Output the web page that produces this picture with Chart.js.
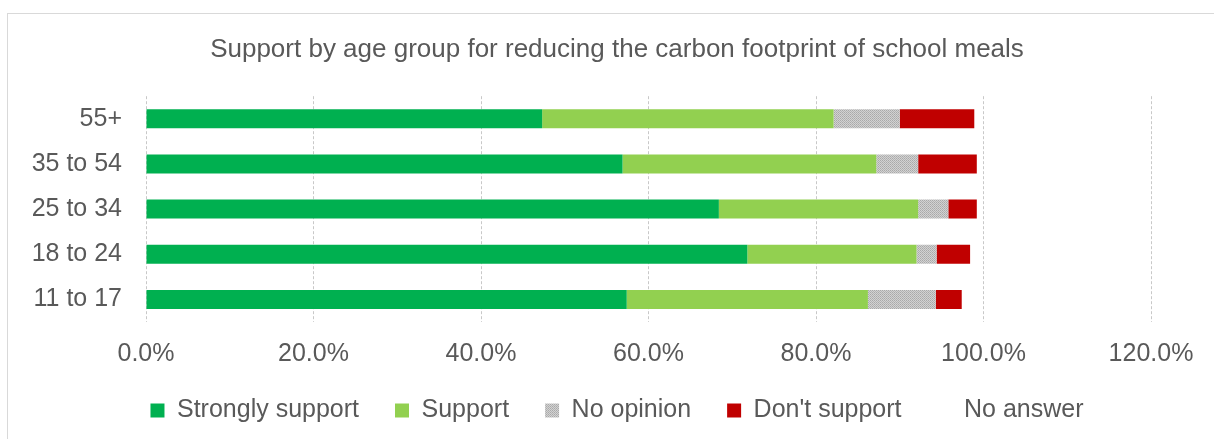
<!DOCTYPE html>
<html>
<head>
<meta charset="utf-8">
<script src="https://cdn.jsdelivr.net/npm/chart.js@4.4.1/dist/chart.umd.min.js"></script>
<style>
  html, body { margin: 0; padding: 0; background: #fff; overflow: hidden; }
  #wrap { position: relative; width: 1214px; height: 439px; }
  #frame { position: absolute; left: 7px; top: 13px; width: 1230px; height: 450px; border: 1px solid #d9d9d9; }
  #chart { position: absolute; left: 0; top: 0; }
</style>
</head>
<body>
<div id="wrap">
  <div id="frame"></div>
  <canvas id="chart" width="1214" height="439"></canvas>
</div>
<script>
// age groups, top row first
const ageGroups = ['55+', '35 to 54', '25 to 34', '18 to 24', '11 to 17'];

// share of respondents (%)
const stronglySupport = [47.3, 56.9, 68.4, 71.8, 57.4];
const support         = [34.8, 30.3, 23.8, 20.2, 28.8];
const noOpinion       = [7.9, 5.0, 3.6, 2.4, 8.1];
const dontSupport     = [8.9, 7.0, 3.4, 4.0, 3.1];
const noAnswer        = [1.1, 0.8, 0.8, 1.6, 2.6];

const axisTicks = [0, 20, 40, 60, 80, 100, 120];

const textGrey = '#595959';
const fontFamily = "'Liberation Sans', Arial, sans-serif";

// stippled grey fill for "No opinion"
function greyPattern() {
  const c = document.createElement('canvas');
  c.width = 2; c.height = 2;
  const p = c.getContext('2d');
  p.fillStyle = '#d2d2d2'; p.fillRect(0, 0, 2, 2);
  p.fillStyle = '#a9a9a9'; p.fillRect(0, 0, 1, 1);
  p.fillStyle = '#b4b4b4'; p.fillRect(1, 1, 1, 1);
  return p.createPattern(c, 'repeat');
}

const ctx = document.getElementById('chart').getContext('2d');

function series(label, data, color) {
  return {
    label: label,
    data: data,
    backgroundColor: color,
    hoverBackgroundColor: color,
    borderWidth: 0,
    barPercentage: 0.42,
    categoryPercentage: 1.0
  };
}

new Chart(ctx, {
  type: 'bar',
  data: {
    labels: ageGroups,
    datasets: [
      series('Strongly support', stronglySupport, '#00b050'),
      series('Support', support, '#92d050'),
      series('No opinion', noOpinion, greyPattern()),
      series("Don't support", dontSupport, '#c00000'),
      series('No answer', noAnswer, 'rgba(0,0,0,0)')
    ]
  },
  options: {
    indexAxis: 'y',
    responsive: false,
    animation: false,
    layout: { padding: { left: 20, right: 0, top: 13, bottom: 6 } },
    plugins: {
      tooltip: { enabled: false },
      title: {
        display: true,
        text: 'Support by age group for reducing the carbon footprint of school meals',
        color: textGrey,
        font: { family: fontFamily, size: 26, weight: 'normal' },
        padding: { top: 21, bottom: 31 }
      },
      legend: {
        position: 'bottom',
        labels: {
          color: textGrey,
          font: { family: fontFamily, size: 25 },
          boxWidth: 14,
          boxHeight: 14,
          padding: 36
        }
      }
    },
    scales: {
      x: {
        stacked: true,
        min: 0,
        max: 120,
        afterBuildTicks: function (scale) {
          scale.ticks = axisTicks.map(v => ({ value: v }));
        },
        afterFit: function (scale) { scale.height = 40; },
        ticks: {
          color: textGrey,
          font: { family: fontFamily, size: 25 },
          padding: 17,
          maxRotation: 0,
          callback: v => v.toFixed(1) + '%'
        },
        grid: { color: '#c8c8c8', lineWidth: 1, drawTicks: false },
        border: { display: false, dash: [3, 2] }
      },
      y: {
        stacked: true,
        afterFit: function (scale) { scale.width = 126; },
        ticks: {
          color: textGrey,
          font: { family: fontFamily, size: 25 },
          padding: 24
        },
        grid: { display: false, drawTicks: false },
        border: { display: false }
      },
      // empty right-hand axis, keeps space right of the 120% line
      spacer: {
        type: 'linear',
        axis: 'y',
        position: 'right',
        afterFit: function (scale) { scale.width = 63; },
        ticks: { display: false },
        grid: { display: false, drawTicks: false },
        border: { display: false }
      }
    }
  }
});
</script>
</body>
</html>
